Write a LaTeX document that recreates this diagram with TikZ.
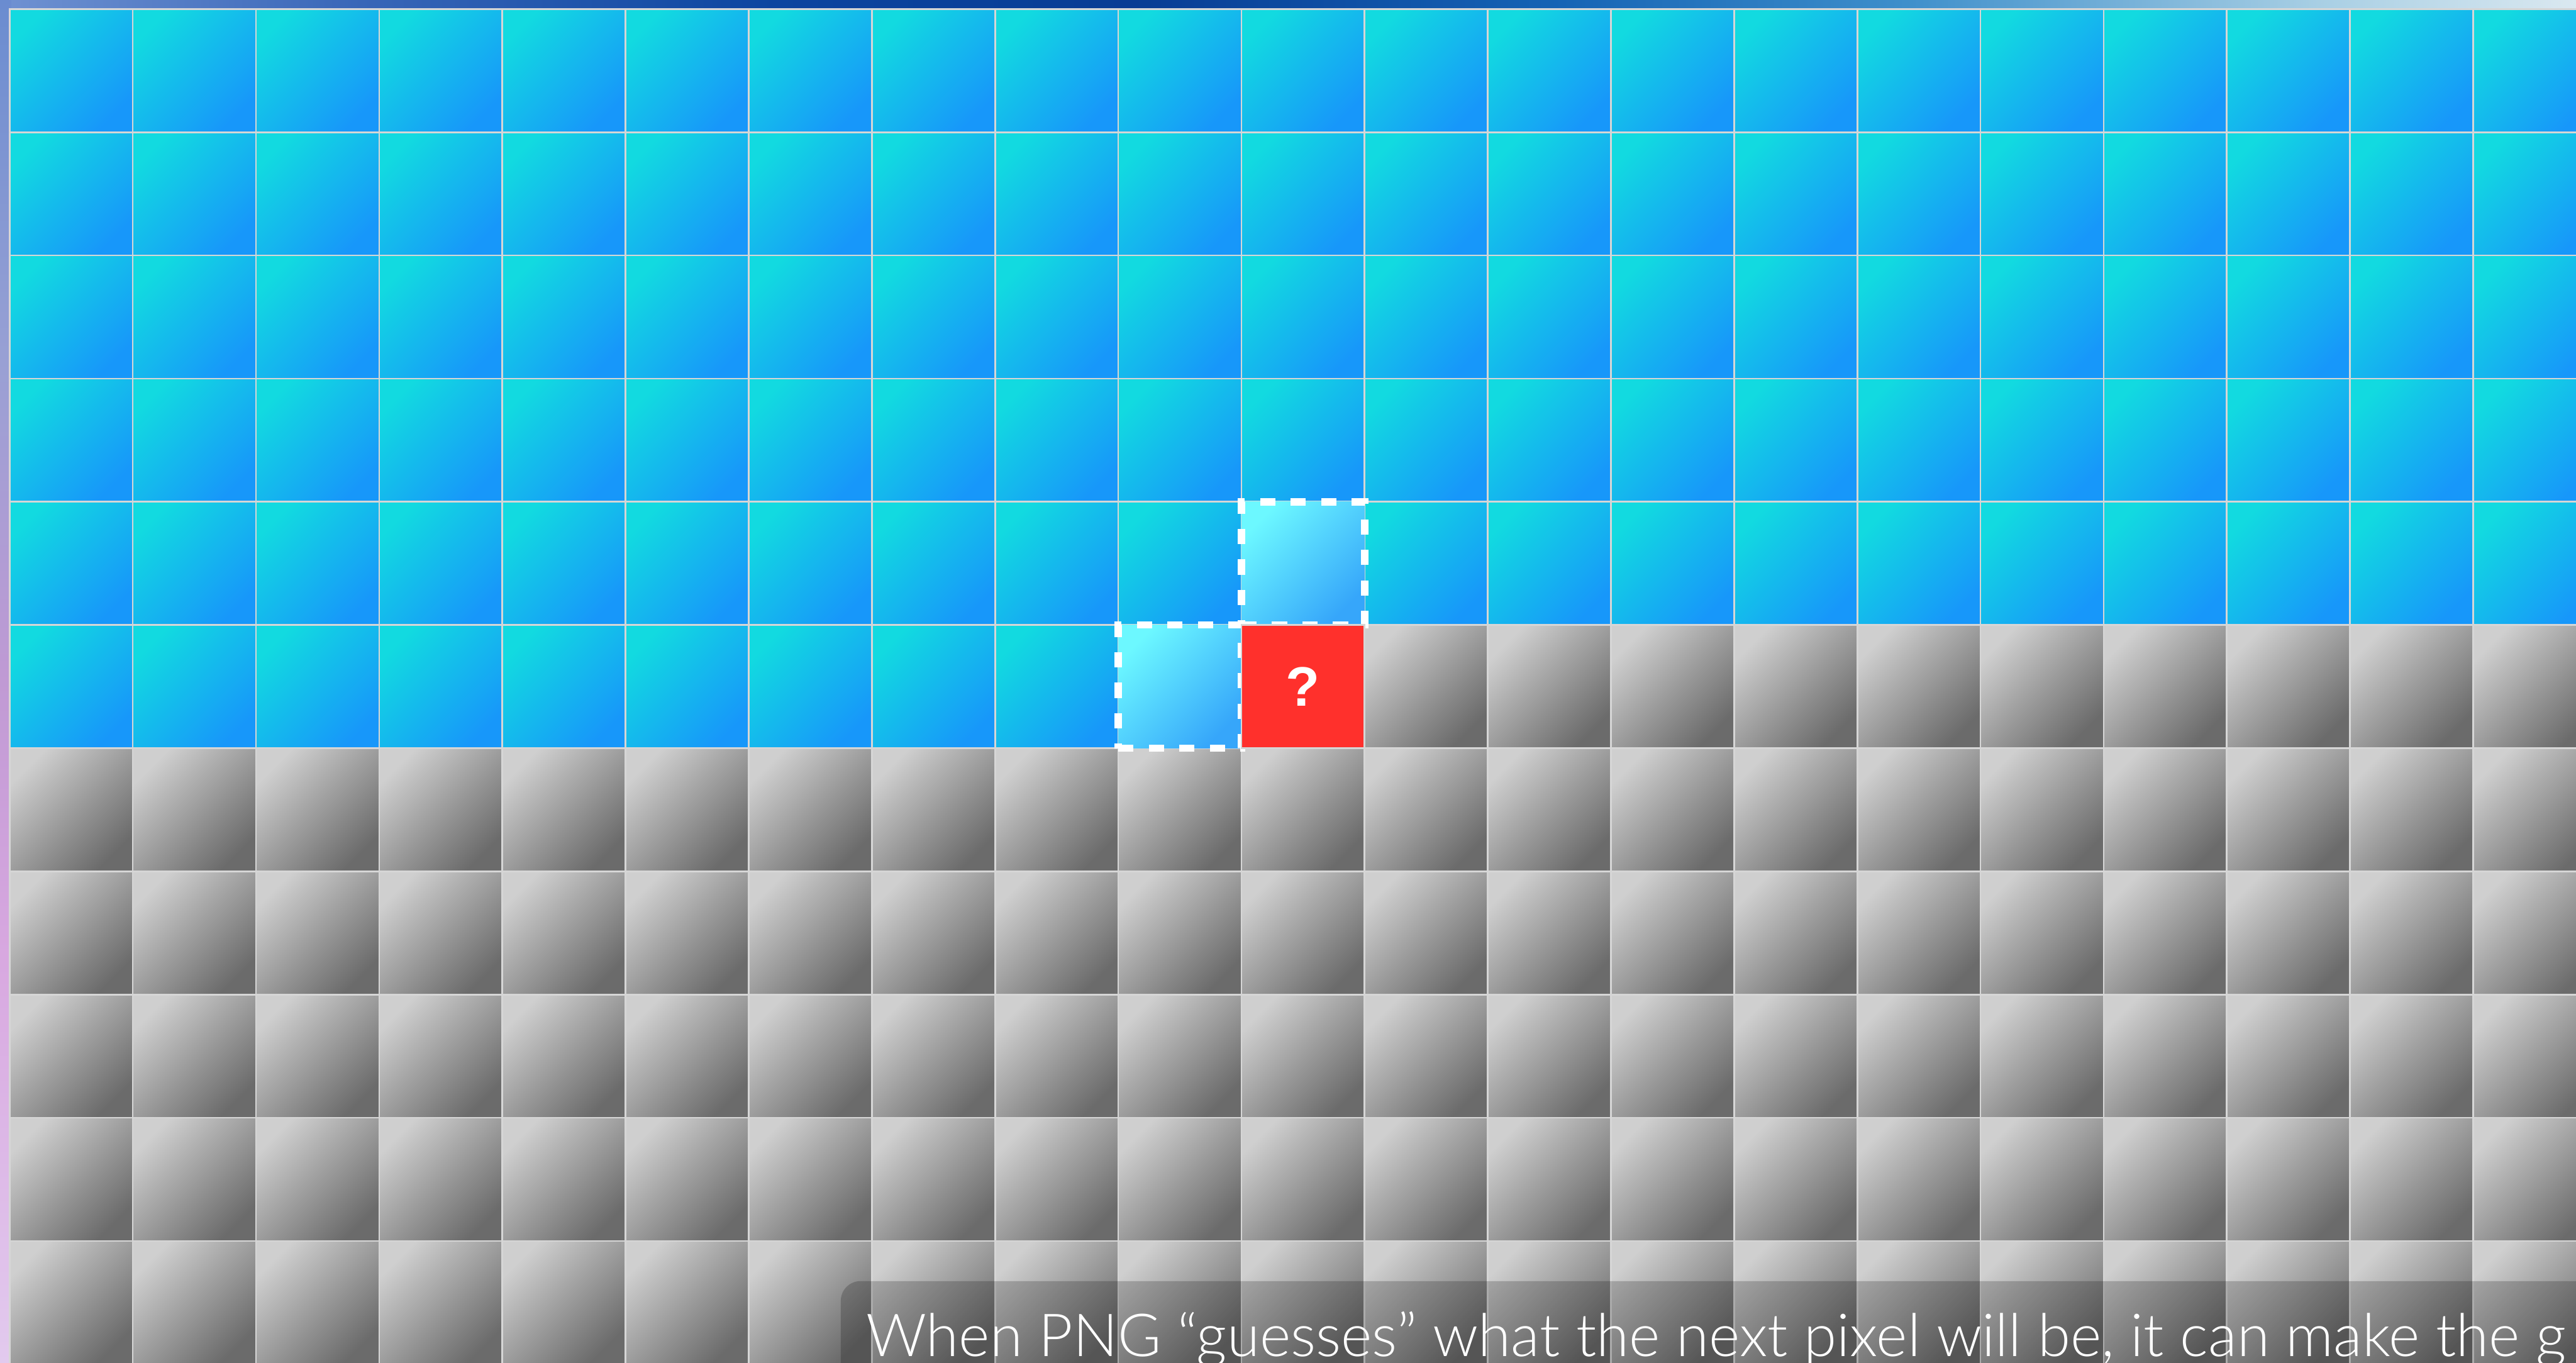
\documentclass[tikz,border=0pt]{standalone}
\usepackage{fontspec}
\setmainfont{Lato}
\IfFontExistsTF{Lato Light}{\newfontfamily\capfont{Lato Light}}{\newfontfamily\capfont{Lato}}
\newfontfamily\qfont{Liberation Sans}
\usetikzlibrary{positioning}
\definecolor{cyanA}{HTML}{12DAE0}
\definecolor{blueB}{HTML}{1797FA}
\definecolor{grayA}{HTML}{CFCFCF}
\definecolor{grayB}{HTML}{6B6B6B}
\definecolor{lightA}{HTML}{6CF8FF}
\definecolor{lightB}{HTML}{36A6FA}
\definecolor{redq}{HTML}{FF302C}
\definecolor{gridline}{HTML}{D6D6D6}
\definecolor{bandA}{HTML}{7092D2}
\definecolor{bandB}{HTML}{3866B8}
\definecolor{bandC}{HTML}{0C45A0}
\definecolor{bandD}{HTML}{083C94}
\definecolor{bandE}{HTML}{1462B4}
\definecolor{bandF}{HTML}{3E8FCB}
\definecolor{bandG}{HTML}{A8CFE4}
\definecolor{bandH}{HTML}{DAE8F0}
\definecolor{sideA}{HTML}{E2CAEE}
\definecolor{sideB}{HTML}{D8A8E0}
\definecolor{sideC}{HTML}{C09AD4}
\definecolor{sideD}{HTML}{98A0D4}
\definecolor{sideE}{HTML}{6A8CD0}
\pgfdeclarehorizontalshading{topband}{100bp}{color(0bp)=(bandA); color(25bp)=(bandA);
  color(32bp)=(bandB); color(40bp)=(bandC); color(47bp)=(bandD); color(55bp)=(bandE);
  color(62bp)=(bandF); color(70bp)=(bandG); color(75bp)=(bandH); color(100bp)=(bandH)}
\pgfdeclareverticalshading{sideband}{100bp}{color(0bp)=(sideA); color(25bp)=(sideA);
  color(40bp)=(sideB); color(50bp)=(sideC); color(62bp)=(sideD); color(75bp)=(sideE); color(100bp)=(sideE)}
\tikzset{
  cell/.style={draw=gridline, line width=0.3mm, minimum size=21.8mm, inner sep=0pt},
  bluecell/.style={cell, top color=cyanA, bottom color=blueB, shading angle=45},
  graycell/.style={cell, top color=grayA, bottom color=grayB, shading angle=45},
  pick/.style={draw=white, line width=1.3mm, dash pattern=on 2.7mm off 2.7mm, minimum size=21.8mm, inner sep=0pt, top color=lightA, bottom color=lightB, shading angle=45},
  guess/.style={cell, fill=redq, text=white, font=\qfont\bfseries\fontsize{28}{28}\selectfont},
  capbox/.style={fill=black, opacity=0.2, rounded corners=3.5mm},
  caption/.style={text=white, inner sep=0pt, font=\capfont\fontsize{29.9}{30}\selectfont}}

\begin{document}
\begin{tikzpicture}
\useasboundingbox (0,0) rectangle (45.59,24.11);
\clip (0,0) rectangle (45.59,24.11);
% backdrop behind the grid
\shade[shading=topband] (0,23.9) rectangle (45.59,24.11);
\shade[shading=sideband] (0,0) rectangle (0.2,24.11);
% pixel grid
\foreach \r in {0,...,10} {
  \foreach \c in {0,...,20} {
    \pgfmathtruncatemacro\isblue{(\r<5)||((\r==5)&&(\c<10))}
    \ifnum\isblue=1
      \node[bluecell] (c-\r-\c) at ({1.26+2.18*\c},{22.86-2.18*\r}) {};
    \else
      \node[graycell] (c-\r-\c) at ({1.26+2.18*\c},{22.86-2.18*\r}) {};
    \fi
  }
}
% neighbours used for the guess
\node[pick] (up) at (c-4-10) {};
\node[pick] (left) at (c-5-9) {};
\node[guess] (q) at (c-5-10) {?};
% caption bar
\fill[capbox] (14.88,1.44) rectangle (47,-1);
\node[caption, anchor=base west] (cap) at (15.32,0.11) {When PNG “guesses” what the next pixel will be, it can make the g};
\end{tikzpicture}
\end{document}
